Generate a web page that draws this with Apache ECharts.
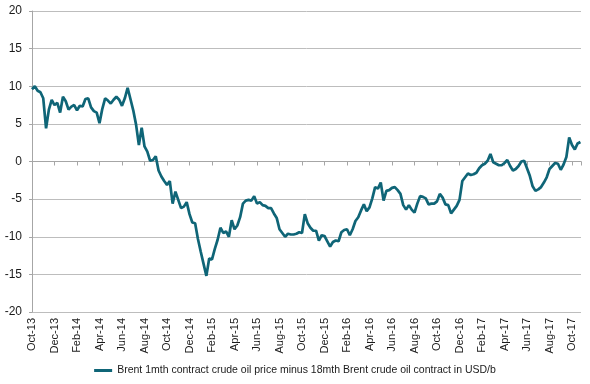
<!DOCTYPE html>
<html>
<head>
<meta charset="utf-8">
<script src="https://cdn.jsdelivr.net/npm/echarts@6/dist/echarts.min.js"></script>
<style>
  html, body { margin: 0; padding: 0; background: #fff; }
  #chart { width: 590px; height: 384px; }
</style>
</head>
<body>
<div id="chart"></div>
<script>
// spread 1mth minus 18mth Brent, USD/b, read every quarter of a month from Oct-13
var seriesName = 'Brent 1mth contract crude oil price minus 18mth Brent crude oil contract in USD/b';
var tickLabels = ['Oct-13','Dec-13','Feb-14','Apr-14','Jun-14','Aug-14','Oct-14','Dec-14',
    'Feb-15','Apr-15','Jun-15','Aug-15','Oct-15','Dec-15','Feb-16','Apr-16','Jun-16',
    'Aug-16','Oct-16','Dec-16','Feb-17','Apr-17','Jun-17','Aug-17','Oct-17'];

var spread2013 = [9.6,10.0,9.4,9.2,8.4,4.4,6.9,8.2,7.5,7.8,6.5,8.6];
var spread2014 = [8.0,6.9,7.3,7.5,6.8,7.4,7.3,8.3,8.4,7.2,6.7,6.5,5.1,7.0,8.4,8.1,
    7.7,8.2,8.6,8.2,7.4,8.4,9.8,8.3,6.8,4.9,2.2,4.5,2.0,1.3,0.1,0.2,
    0.7,-1.2,-2.0,-2.6,-3.1,-2.6,-5.6,-4.0,-5.1,-6.2,-6.0,-5.4,-7.0,-8.1,-8.2,-10.3];
var spread2015 = [-12.0,-13.6,-15.2,-12.9,-13.0,-11.6,-10.4,-8.8,-9.5,-9.3,-10.0,-7.8,
    -9.0,-8.5,-7.4,-5.6,-5.2,-5.1,-5.2,-4.6,-5.6,-5.4,-5.8,-5.9,-6.2,-6.2,-6.9,-7.5,
    -9.0,-9.5,-10.0,-9.6,-9.7,-9.7,-9.6,-9.4,-9.5,-7.0,-8.2,-8.8,-9.2,-9.2,-10.5,-9.8,
    -9.9,-10.6,-11.3,-10.7];
var spread2016 = [-10.5,-10.6,-9.4,-9.1,-9.0,-9.8,-9.0,-7.9,-7.4,-6.5,-5.7,-6.6,
    -6.1,-4.9,-3.4,-3.6,-2.8,-5.2,-3.9,-3.8,-3.5,-3.4,-3.8,-4.3,-5.8,-6.4,-5.8,-6.4,
    -6.8,-5.6,-4.6,-4.7,-4.9,-5.7,-5.6,-5.6,-5.3,-4.3,-4.8,-5.7,-5.8,-6.9,-6.4,-5.9,
    -5.1,-2.6,-2.1,-1.6];
var spread2017 = [-1.8,-1.7,-1.5,-0.9,-0.5,-0.3,0.1,1.0,-0.1,-0.3,-0.5,-0.5,-0.2,0.2,
    -0.6,-1.2,-1.0,-0.6,0,0.1,-0.9,-1.9,-3.3,-3.9,-3.7,-3.4,-2.8,-2.1,-1.0,-0.6,
    -0.2,-0.3,-1.1,-0.4,0.6,3.2,2.2,1.6,2.4,2.6];

var allValues = [].concat(spread2013, spread2014, spread2015, spread2016, spread2017);
// x = months since 1 Oct 2013
var lineData = allValues.map(function (v, i) { return [i * 0.25, v]; });

var textColor = '#1a1a1a';
var gridColor = '#bdbdbd';

var option = {
    backgroundColor: '#fff',
    animation: false,
    grid: { left: 32, right: 9, top: 11, bottom: 72 },
    legend: {
        bottom: 3,
        left: 'center',
        icon: 'rect',
        itemWidth: 18,
        itemHeight: 3,
        textStyle: { color: textColor, fontSize: 10.5, fontFamily: 'Liberation Sans' },
        data: [seriesName]
    },
    xAxis: [
        {
            type: 'value',
            min: 0,
            max: 48.8,
            interval: 2,
            axisLine: { show: false, onZero: false },
            axisTick: { show: false },
            splitLine: { show: false },
            axisLabel: {
                rotate: 90,
                margin: 6,
                color: textColor,
                fontSize: 11,
                fontFamily: 'Liberation Sans',
                showMaxLabel: false,
                formatter: function (v) {
                    var k = v / 2;
                    return (k === Math.round(k) && tickLabels[k]) ? tickLabels[k] : '';
                }
            }
        },
        {
            type: 'value',
            min: 0,
            max: 48.8,
            interval: 2,
            position: 'bottom',
            axisLine: { show: true, onZero: true, lineStyle: { color: '#a6a6a6', width: 1 } },
            axisTick: { show: true, length: 4, lineStyle: { color: '#a6a6a6' } },
            axisLabel: { show: false },
            splitLine: { show: false }
        }
    ],
    yAxis: {
        type: 'value',
        min: -20,
        max: 20,
        interval: 5,
        axisLine: { show: true, lineStyle: { color: '#a6a6a6' } },
        axisTick: { show: true, length: 3, lineStyle: { color: '#a6a6a6' } },
        splitLine: { lineStyle: { color: gridColor, width: 1 } },
        axisLabel: { color: textColor, fontSize: 12, fontFamily: 'Liberation Sans', margin: 10 }
    },
    series: [
        {
            name: seriesName,
            type: 'line',
            xAxisIndex: 0,
            showSymbol: false,
            symbol: 'none',
            lineStyle: { color: '#0f6577', width: 2.7 },
            itemStyle: { color: '#0f6577' },
            data: lineData
        }
    ]
};

var chart = echarts.init(document.getElementById('chart'));
chart.setOption(option);
</script>
</body>
</html>
